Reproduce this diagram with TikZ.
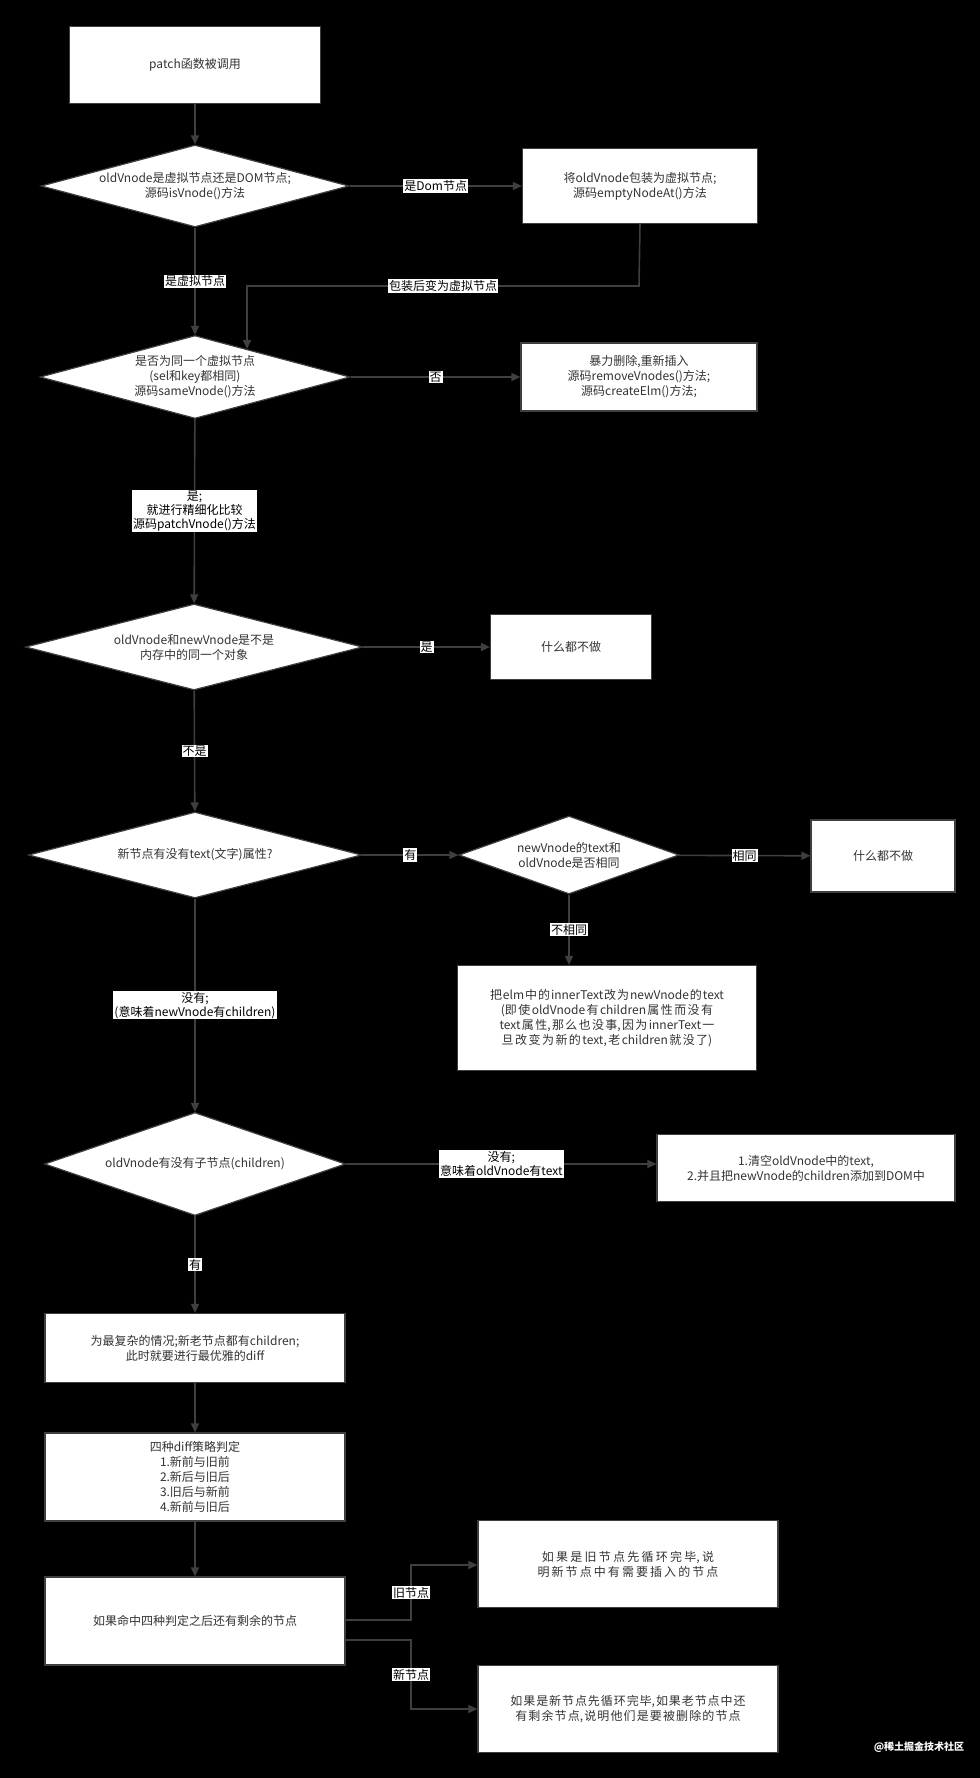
\documentclass[tikz,border=0pt]{standalone}
\usepackage{fontspec}
\setmainfont{Noto Sans CJK SC}
\XeTeXlinebreaklocale "zh"
\XeTeXlinebreakskip=0pt plus 1pt
\usetikzlibrary{arrows.meta,shapes.geometric,positioning}
\definecolor{linegray}{HTML}{3F3F3F}
\definecolor{txtgray}{HTML}{333333}
\tikzset{
  basic/.style    = {draw=linegray, line width=1.2pt, fill=white, text=txtgray,
                     font=\fontsize{12}{15}\selectfont, align=center},
  process/.style  = {basic, rectangle, inner sep=2pt},
  decision/.style = {basic, diamond, inner sep=0pt},
  dtext/.style    = {text=txtgray, font=\fontsize{12}{15}\selectfont, align=center},
  tag/.style      = {fill=white, text=black, inner sep=1pt,
                     font=\fontsize{12}{14}\selectfont, align=center},
  flow/.style     = {draw=linegray, line width=1.6pt, -{Triangle[length=9pt,width=8pt]}}
}
\begin{document}
\begin{tikzpicture}[x=1pt,y=-1pt]
\fill[black] (0,0) rectangle (980,1778);
\useasboundingbox (0,0) rectangle (980,1778);

% main column
\node[process, minimum width=251pt, minimum height=77pt] (start) at (195,65) {patch函数被调用};
\node[decision, minimum width=308pt, minimum height=82pt] (d1) at (195,186)
  [label={[dtext]center:oldVnode是虚拟节点还是DOM节点;\\源码isVnode()方法}] {};
\node[decision, minimum width=310pt, minimum height=83pt] (d2) at (195,377)
  [label={[dtext]center:是否为同一个虚拟节点\\(sel和key都相同)\\源码sameVnode()方法}] {};
\node[decision, minimum width=337pt, minimum height=86pt] (d3) at (194,647)
  [label={[dtext]center:oldVnode和newVnode是不是\\内存中的同一个对象}] {};
\node[decision, minimum width=333pt, minimum height=86pt] (d4) at (195,855)
  [label={[dtext]center:新节点有没有text(文字)属性?}] {};
\node[decision, minimum width=301pt, minimum height=103pt] (d6) at (195,1164)
  [label={[dtext]center:oldVnode有没有子节点(children)}] {};
\node[process, minimum width=300pt, minimum height=69pt] (both) at (195,1348)
  {为最复杂的情况;新老节点都有children;\\此时就要进行最优雅的diff};
\node[process, minimum width=300pt, minimum height=88pt, inner sep=0pt] (four) at (195,1477)
  {四种diff策略判定\\1.新前与旧前\\2.新后与旧后\\3.旧后与新前\\4.新前与旧后};
\node[process, minimum width=300pt, minimum height=88pt] (rest) at (195,1621)
  {如果命中四种判定之后还有剩余的节点};

% right side
\node[process, minimum width=235pt, minimum height=75pt] (wrap) at (640,186)
  {将oldVnode包装为虚拟节点;\\源码emptyNodeAt()方法};
\node[process, minimum width=236pt, minimum height=68pt] (force) at (639,377)
  {暴力删除,重新插入\\源码removeVnodes()方法;\\源码createElm()方法;};
\node[process, minimum width=161pt, minimum height=65pt] (same1) at (571,647) {什么都不做};
\node[decision, minimum width=220pt, minimum height=78pt] (d5) at (569,855)
  [label={[dtext]center:newVnode的text和\\oldVnode是否相同}] {};
\node[process, minimum width=144pt, minimum height=72pt] (same2) at (883,856) {什么都不做};
\node[process, minimum width=299pt, minimum height=105pt, text width=280pt] (settext) at (607,1018)
  {把elm中的innerText改为newVnode的text\\(即使oldVnode有children属性而没有text属性,那么也没事,因为innerText一旦改变为新的text,老children就没了)};
\node[process, minimum width=298pt, minimum height=67pt] (clear) at (806,1168)
  {1.清空oldVnode中的text,\\2.并且把newVnode的children添加到DOM中};
\node[process, minimum width=300pt, minimum height=87pt, text width=280pt] (oldend) at (628,1564)
  {如果是旧节点先循环完毕,说明新节点中有需要插入的节点};
\node[process, minimum width=300pt, minimum height=87pt, text width=280pt] (newend) at (628,1709)
  {如果是新节点先循环完毕,如果老节点中还有剩余节点,说明他们是要被删除的节点};

\coordinate (turn1) at (639,286);
\coordinate (turn2) at (247,286);
\coordinate (hit2) at (247,349);
\coordinate (x1) at (411,1620);
\coordinate (x2) at (411,1565);
\coordinate (x3) at (411,1640);
\coordinate (x4) at (411,1709);
\coordinate (r1) at (345,1620);
\coordinate (r2) at (345,1640);

% connectors
\draw[flow] (start) -- (d1);
\draw[flow] (d1) -- node[tag]{是Dom节点} (wrap);
\draw[flow] (d1) -- node[tag]{是虚拟节点} (d2);
\draw[flow] (wrap.south) -- (turn1) -- node[tag]{包装后变为虚拟节点} (turn2) -- (hit2);
\draw[flow] (d2) -- node[tag]{否} (force);
\draw[flow] (d2) -- node[tag]{是;\\就进行精细化比较\\源码patchVnode()方法} (d3);
\draw[flow] (d3) -- node[tag]{是} (same1);
\draw[flow] (d3) -- node[tag]{不是} (d4);
\draw[flow] (d4) -- node[tag]{有} (d5);
\draw[flow] (d5) -- node[tag]{相同} (same2);
\draw[flow] (d5.south) -- node[tag]{不相同} (d5.south |- settext.north);
\draw[flow] (d4) -- node[tag]{没有;\\(意味着newVnode有children)} (d6);
\draw[flow] (d6) -- node[tag]{没有;\\意味着oldVnode有text} (d6 -| clear.west);
\draw[flow] (d6) -- node[tag]{有} (both);
\draw[flow] (both) -- (four);
\draw[flow] (four) -- (rest);
\draw[flow] (r1) -- (x1) -- node[tag]{旧节点} (x2) -- (x2 -| oldend.west);
\draw[flow] (r2) -- (x3) -- node[tag]{新节点} (x4) -- (newend.west);

\node[text=white, font=\fontsize{10}{12}\selectfont\bfseries] (mark) at (919,1747) {@稀土掘金技术社区};
\end{tikzpicture}
\end{document}
